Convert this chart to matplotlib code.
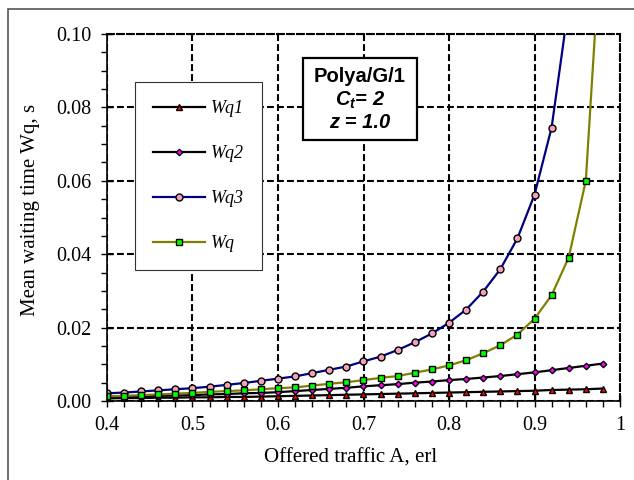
import numpy as np
import matplotlib
matplotlib.use("Agg")
import matplotlib.pyplot as plt
from matplotlib.ticker import MultipleLocator, FuncFormatter
from matplotlib.patches import Rectangle

# Offered traffic A, erl (marker positions every 0.02)
traffic = [0.40, 0.42, 0.44, 0.46, 0.48, 0.50, 0.52, 0.54, 0.56, 0.58,
           0.60, 0.62, 0.64, 0.66, 0.68, 0.70, 0.72, 0.74, 0.76, 0.78,
           0.80, 0.82, 0.84, 0.86, 0.88, 0.90, 0.92, 0.94, 0.96, 0.98]

# Mean waiting times, s
wq1 = [0.0007, 0.0008, 0.0008, 0.0009, 0.0009, 0.0010, 0.0010, 0.0011, 0.0011, 0.0012,
       0.0013, 0.0014, 0.0015, 0.0016, 0.0017, 0.0018, 0.0019, 0.0020, 0.0021, 0.0022,
       0.0023, 0.0024, 0.0025, 0.0026, 0.0027, 0.0028, 0.0030, 0.0031, 0.0032, 0.0034]
wq2 = [0.0011, 0.0012, 0.0013, 0.0014, 0.0015, 0.0016, 0.0018, 0.0019, 0.0021, 0.0022,
       0.0024, 0.0027, 0.0030, 0.0033, 0.0036, 0.0040, 0.0043, 0.0046, 0.0050, 0.0053,
       0.0057, 0.0060, 0.0064, 0.0068, 0.0073, 0.0078, 0.0084, 0.0090, 0.0096, 0.0102]
wq3 = [0.0021, 0.0023, 0.0026, 0.0029, 0.0032, 0.0035, 0.0039, 0.0044, 0.0049, 0.0055,
       0.0061, 0.0067, 0.0076, 0.0085, 0.0094, 0.0108, 0.0121, 0.0139, 0.0160, 0.0184,
       0.0213, 0.0249, 0.0298, 0.0359, 0.0443, 0.0562, 0.0745, 0.108, 0.17, 0.35]
wq = [0.0013, 0.0014, 0.0016, 0.0018, 0.0020, 0.0022, 0.0025, 0.0027, 0.0029, 0.0032,
      0.0035, 0.0037, 0.0042, 0.0047, 0.0051, 0.0057, 0.0063, 0.0068, 0.0077, 0.0086,
      0.0097, 0.0111, 0.0130, 0.0152, 0.0181, 0.0224, 0.0288, 0.0391, 0.0600, 0.135]

series_names = ["Wq1", "Wq2", "Wq3", "Wq"]

plt.rcParams['mathtext.fontset'] = 'custom'
plt.rcParams['mathtext.it'] = 'Liberation Sans:italic:bold'
plt.rcParams['mathtext.rm'] = 'Liberation Sans:bold'

serif = 'Liberation Serif'
dash = (0, (3.3, 1.5))

fig = plt.figure(figsize=(6.34, 4.8), dpi=100)
ax = fig.add_axes([107 / 634, 79 / 480, 513 / 634, 367 / 480])

ax.plot(traffic, wq1, color='black', lw=1.6, marker='^', ms=4.5,
        mfc='#FF0000', mec='black', mew=1, label=series_names[0])
ax.plot(traffic, wq2, color='black', lw=1.6, marker='D', ms=3.3,
        mfc='#FF00FF', mec='black', mew=1, label=series_names[1])
ax.plot(traffic, wq3, color='#000080', lw=1.6, marker='o', ms=5,
        mfc='#F4A0B8', mec='black', mew=1, label=series_names[2])
ax.plot(traffic, wq, color='#808000', lw=1.6, marker='s', ms=5,
        mfc='#00FF00', mec='black', mew=1, label=series_names[3])

ax.set_xlim(0.4, 1.0)
ax.set_ylim(0.0, 0.10)

ax.xaxis.set_major_locator(MultipleLocator(0.1))
ax.xaxis.set_minor_locator(MultipleLocator(0.02))
ax.yaxis.set_major_locator(MultipleLocator(0.02))
ax.yaxis.set_minor_locator(MultipleLocator(0.005))
ax.xaxis.set_major_formatter(FuncFormatter(lambda v, p: "1" if abs(v - 1) < 1e-9 else f"{v:.1f}"))
ax.yaxis.set_major_formatter(FuncFormatter(lambda v, p: f"{v:.2f}"))

ax.tick_params(which='major', direction='inout', length=8, width=1, pad=7,
               labelsize=14.5, colors='black')
ax.tick_params(which='minor', direction='out', length=4, width=1)
for lab in ax.get_xticklabels() + ax.get_yticklabels():
    lab.set_fontfamily(serif)

ax.grid(True, which='major', color='black', lw=1.5, linestyle=dash)

ax.spines['left'].set_linewidth(1.2)
ax.spines['bottom'].set_linewidth(1.2)
for s in ['top', 'right']:
    ax.spines[s].set_linestyle(dash)
    ax.spines[s].set_linewidth(1.5)

ax.set_xlabel("Offered traffic A, erl", fontfamily=serif, fontsize=15)
ax.set_ylabel("Mean waiting time Wq, s", fontfamily=serif, fontsize=15)
ax.xaxis.set_label_coords(0.474, -0.155)
ax.xaxis.label.set_va('center')
ax.yaxis.set_label_coords(-0.150, 0.52)
ax.yaxis.label.set_va('center')

leg = ax.legend(loc='upper left', bbox_to_anchor=(135 / 634, 1 - 82 / 480),
                bbox_transform=fig.transFigure, prop={'family': serif, 'style': 'italic', 'size': 13},
                frameon=True, fancybox=False, framealpha=1, edgecolor='#333333',
                borderpad=1.0, labelspacing=1.55, handlelength=2.9, handletextpad=0.3,
                borderaxespad=0)
leg.get_frame().set_linewidth(0.8)

# annotation box
fig.patches.append(Rectangle((303 / 634, 1 - 140 / 480), 114 / 634, 82 / 480,
                             transform=fig.transFigure, fill=True, facecolor='white',
                             edgecolor='black', lw=1.6, zorder=5))
cx = 360 / 634
fig.text(cx, 1 - 76 / 480, "Polya/G/1", ha='center', va='center', fontsize=14.5,
         fontfamily='Liberation Sans', fontweight='bold', zorder=6)
fig.text(cx, 1 - 100 / 480, r"$C_t$= 2", ha='center', va='center', fontsize=14.5,
         fontfamily='Liberation Sans', fontweight='bold', style='italic', zorder=6)
fig.text(cx, 1 - 122 / 480, "z = 1.0", ha='center', va='center', fontsize=14.5,
         fontfamily='Liberation Sans', fontweight='bold', style='italic', zorder=6)

# outer chart frame
fig.patches.append(Rectangle((8 / 634, -0.05), 1.1, 1 - 9 / 480 + 0.05,
                             transform=fig.transFigure, fill=False,
                             edgecolor='#555555', lw=1.2))

fig.savefig("out.png", dpi=100)
